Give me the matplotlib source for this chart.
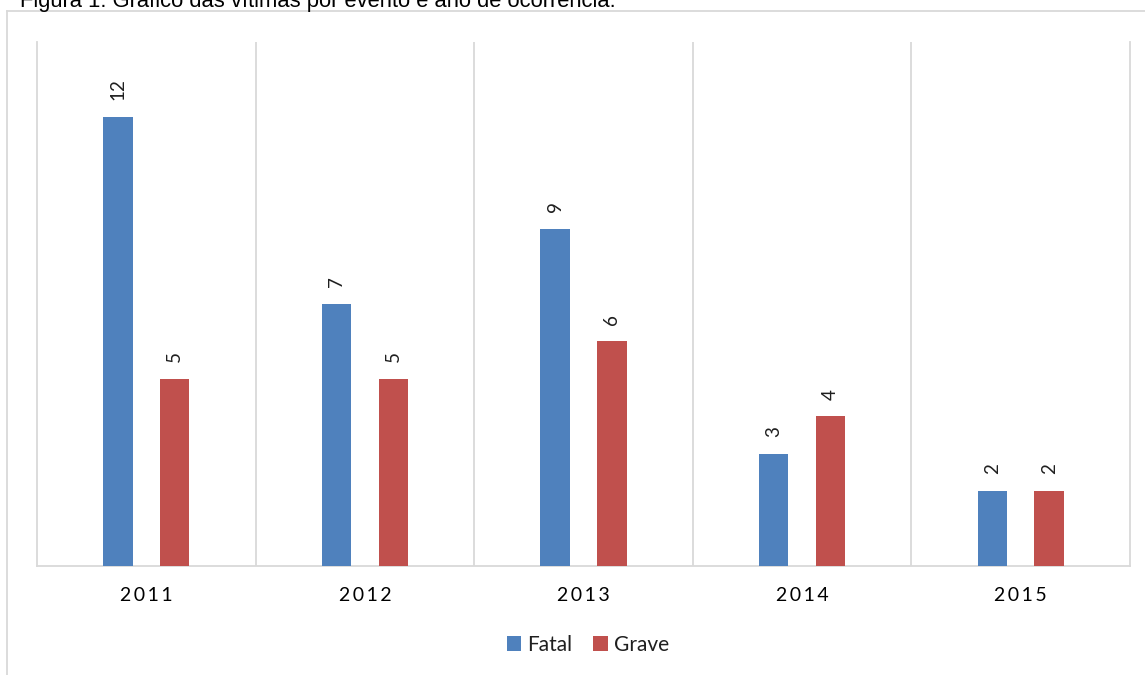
import matplotlib
matplotlib.use("Agg")
import matplotlib.pyplot as plt
from matplotlib.lines import Line2D
import numpy as np

years = ["2011", "2012", "2013", "2014", "2015"]
fatal = [12, 7, 9, 3, 2]
grave = [5, 5, 6, 4, 2]

BLUE = "#4F81BD"
RED = "#C0504D"
GRID = "#D9D9D9"
TXT = "#1F1F1F"

W, H = 1145, 675
fig = plt.figure(figsize=(W / 100, H / 100), dpi=100)

# title (partially cut at the top in reference)
fig.text(20 / W, 1 - 7 / H, "Figura 1: Gráfico das vítimas por evento e ano de ocorrência.",
         fontsize=15.8, family="Liberation Sans", color="black", ha="left", va="baseline")

# outer chart frame
fig.add_artist(Line2D([7 / W, 7 / W], [0, 1 - 11 / H], transform=fig.transFigure, color=GRID, lw=1.3))
fig.add_artist(Line2D([7 / W, 1.0], [1 - 11 / H, 1 - 11 / H], transform=fig.transFigure, color=GRID, lw=1.3))

ax = fig.add_axes([37 / W, 1 - 566 / H, (1130 - 37) / W, (566 - 42) / H])
x = np.arange(len(years))
bw = 0.135
off = 0.13
b1 = ax.bar(x - off, fatal, bw, color=BLUE, label="Fatal", zorder=3)
b2 = ax.bar(x + off, grave, bw, color=RED, label="Grave", zorder=3)

for bars, vals in ((b1, fatal), (b2, grave)):
    for rect, v in zip(bars, vals):
        ax.annotate(str(v), (rect.get_x() + rect.get_width() / 2, rect.get_height()),
                    xytext=(0, 12), textcoords="offset points", rotation=90,
                    ha="center", va="bottom", fontsize=13.5, color=TXT, family="Lato")

ax.set_xlim(-0.5, len(years) - 0.5)
ax.set_ylim(0, 14)
ax.set_yticks([])
ax.set_xticks(x)
ax.set_xticklabels(["\u2009".join(y) for y in years], fontsize=14, color="black",
                   family=["Lato", "DejaVu Sans"])
ax.tick_params(axis="x", length=0, pad=15)
for b in np.arange(0.5, len(years) - 0.5, 1):
    ax.axvline(b, color=GRID, lw=1.3, zorder=1)
ax.spines["top"].set_visible(False)
for s in ["left", "right", "bottom"]:
    ax.spines[s].set_color(GRID)
    ax.spines[s].set_linewidth(1.3)

leg = fig.legend(handles=[b1, b2], labels=["Fatal", "Grave"], loc="center",
                 bbox_to_anchor=(588 / W, 1 - 645 / H), ncol=2, frameon=False,
                 prop={"family": "Lato", "size": 15}, handlelength=0.7,
                 handleheight=0.7, handletextpad=0.3, columnspacing=1.0)
for t in leg.get_texts():
    t.set_color(TXT)

fig.savefig("out.png", dpi=100)
